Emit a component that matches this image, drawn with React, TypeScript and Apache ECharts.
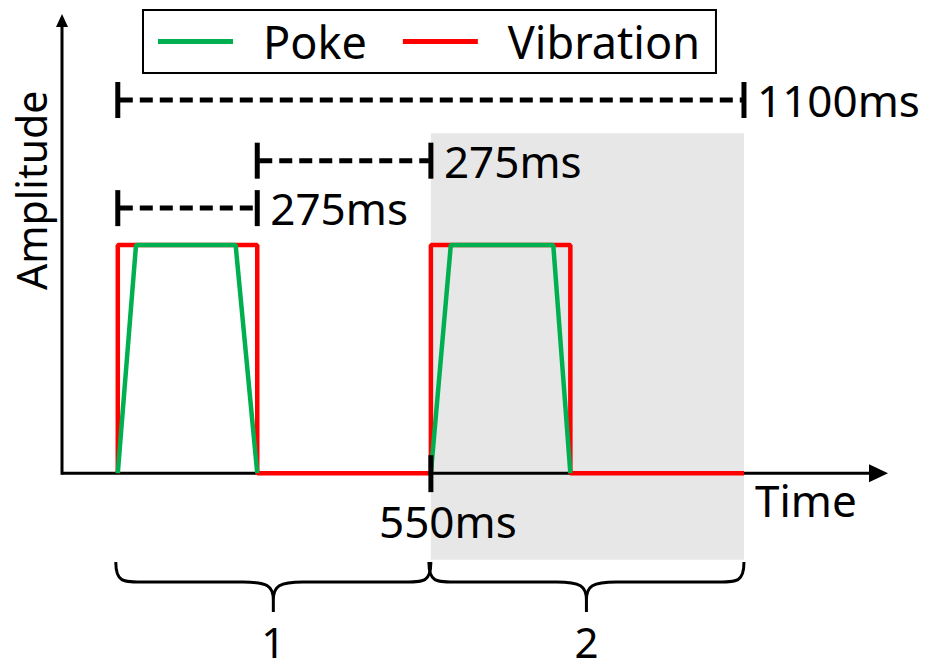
import React, { useEffect, useRef } from "react";
import * as echarts from "echarts";

// ---- data (time in ms, amplitude normalised) ----
const vibrationTime = [0, 0, 245, 245, 550, 550, 795, 795, 1100];
const vibrationAmp = [0, 1, 1, 0, 0, 1, 1, 0, 0];
const poke1Time = [0, 32, 207, 245];
const poke1Amp = [0, 1, 1, 0];
const poke2Time = [550, 585, 765, 795];
const poke2Amp = [0, 1, 1, 0];

// dimension (measurement) markers
const dimStart = [0, 245, 0];
const dimEnd = [1100, 550, 245];
const dimLevel = [1.636, 1.37, 1.162];
const dimLabels = ["1100ms", "275ms", "275ms"];

// braces grouping the two periods
const braceStart = [0, 550];
const braceEnd = [550, 1100];
const braceLabels = ["1", "2"];

// shaded second period
const shadeRange = [550, 1100];
const shadeLevels = [-0.38, 1.49];

// axis tick at 550 ms
const tickTimes = [550];
const tickLabels = ["550ms"];

const xRange = [-98, 1353];
const yRange = [-0.85, 2.0];

const FONT = '"Noto Sans", "DejaVu Sans", sans-serif';
const RED = "#ff0000";
const GREEN = "#00b050";

export default function App() {
  const ref = useRef<HTMLDivElement>(null);
  useEffect(() => {
    document.body.style.margin = "0";
    const chart = echarts.init(ref.current!, null, { renderer: "svg" });
    const zip = (a: number[], b: number[]) => a.map((v, i) => [v, b[i]]);

    const option: any = {
      animation: false,
      backgroundColor: "#ffffff",
      grid: { left: 62, right: 44, top: 17, bottom: 4 },
      xAxis: { type: "value", min: xRange[0], max: xRange[1], show: false },
      yAxis: { type: "value", min: yRange[0], max: yRange[1], show: false },
      legend: {
        data: ["Poke", "Vibration"],
        left: 143,
        top: 10,
        orient: "horizontal",
        icon: "rect",
        itemWidth: 75,
        itemHeight: 5,
        itemGap: 36,
        padding: [9, 16, 9, 15],
        borderColor: "#000",
        borderWidth: 2,
        textStyle: {
          fontFamily: FONT,
          fontSize: 45,
          lineHeight: 45,
          color: "#000",
          padding: [0, 0, 0, 25],
        },
      },
      series: [
        {
          type: "custom",
          name: "shade",
          z: 1,
          silent: true,
          clip: false,
          data: [[shadeRange[0], shadeLevels[0], shadeRange[1], shadeLevels[1]]],
          renderItem: (params: any, api: any) => {
            const p0 = api.coord([api.value(0), api.value(1)]);
            const p1 = api.coord([api.value(2), api.value(3)]);
            return {
              type: "rect",
              shape: { x: p0[0], y: p1[1], width: p1[0] - p0[0], height: p0[1] - p1[1] },
              style: { fill: "#e7e7e7" },
            };
          },
        },
        {
          type: "custom",
          name: "axes",
          z: 2,
          silent: true,
          clip: false,
          data: [[xRange[0], 0, xRange[1], yRange[1]]],
          renderItem: (params: any, api: any) => {
            const o = api.coord([api.value(0), api.value(1)]);
            const xe = api.coord([api.value(2), api.value(1)]);
            const ye = api.coord([api.value(0), api.value(3)]);
            return {
              type: "group",
              children: [
                {
                  type: "line",
                  shape: { x1: o[0], y1: o[1], x2: xe[0] - 15, y2: xe[1] },
                  style: { stroke: "#000", lineWidth: 3 },
                },
                {
                  type: "polygon",
                  shape: { points: [[xe[0], xe[1]], [xe[0] - 19, xe[1] - 9], [xe[0] - 19, xe[1] + 9]] },
                  style: { fill: "#000" },
                },
                {
                  type: "line",
                  shape: { x1: o[0], y1: o[1] + 1.5, x2: ye[0], y2: ye[1] + 10 },
                  style: { stroke: "#000", lineWidth: 3 },
                },
                {
                  type: "polygon",
                  shape: { points: [[ye[0], ye[1] - 3], [ye[0] - 6, ye[1] + 10], [ye[0] + 6, ye[1] + 10]] },
                  style: { fill: "#000" },
                },
                {
                  type: "text",
                  x: xe[0] - 133,
                  y: xe[1] + 27,
                  style: { text: "Time", font: `44px ${FONT}`, lineHeight: 44, fill: "#000", align: "left", verticalAlign: "middle" },
                },
                {
                  type: "text",
                  x: o[0] - 31,
                  y: api.coord([api.value(0), 1.24])[1],
                  rotation: Math.PI / 2,
                  style: { text: "Amplitude", font: `41px ${FONT}`, lineHeight: 40, fill: "#000", align: "center", verticalAlign: "middle" },
                },
              ],
            };
          },
        },
        {
          type: "line",
          name: "Vibration",
          z: 3,
          clip: false,
          showSymbol: false,
          symbol: "none",
          color: RED,
          lineStyle: { color: RED, width: 4.5 },
          data: zip(vibrationTime, vibrationAmp),
        },
        {
          type: "line",
          name: "Poke",
          z: 4,
          clip: false,
          showSymbol: false,
          symbol: "none",
          color: GREEN,
          lineStyle: { color: GREEN, width: 4.5 },
          data: zip(poke1Time, poke1Amp),
        },
        {
          type: "line",
          name: "Poke",
          z: 4,
          clip: false,
          showSymbol: false,
          symbol: "none",
          color: GREEN,
          lineStyle: { color: GREEN, width: 4.5 },
          data: zip(poke2Time, poke2Amp),
        },
        {
          type: "custom",
          name: "tick",
          z: 5,
          silent: true,
          clip: false,
          data: tickTimes.map((t) => [t, 0]),
          renderItem: (params: any, api: any) => {
            const p = api.coord([api.value(0), api.value(1)]);
            return {
              type: "group",
              children: [
                {
                  type: "line",
                  shape: { x1: p[0], y1: p[1] - 18, x2: p[0], y2: p[1] + 19 },
                  style: { stroke: "#000", lineWidth: 5 },
                },
                {
                  type: "text",
                  x: p[0] + 17,
                  y: p[1] + 48,
                  style: {
                    text: tickLabels[params.dataIndex],
                    font: `44px ${FONT}`,
                    lineHeight: 44,
                    fill: "#000",
                    align: "center",
                    verticalAlign: "middle",
                  },
                },
              ],
            };
          },
        },
        {
          type: "custom",
          name: "dims",
          z: 5,
          silent: true,
          clip: false,
          data: dimStart.map((s, i) => [s, dimLevel[i], dimEnd[i]]),
          renderItem: (params: any, api: any) => {
            const p0 = api.coord([api.value(0), api.value(1)]);
            const p1 = api.coord([api.value(2), api.value(1)]);
            return {
              type: "group",
              children: [
                {
                  type: "line",
                  shape: { x1: p0[0] + 2, y1: p0[1], x2: p1[0] - 2, y2: p1[1] },
                  style: { stroke: "#000", lineWidth: 5, lineDash: [13, 7] },
                },
                {
                  type: "line",
                  shape: { x1: p0[0], y1: p0[1] - 18, x2: p0[0], y2: p0[1] + 18 },
                  style: { stroke: "#000", lineWidth: 5 },
                },
                {
                  type: "line",
                  shape: { x1: p1[0], y1: p1[1] - 18, x2: p1[0], y2: p1[1] + 18 },
                  style: { stroke: "#000", lineWidth: 5 },
                },
                {
                  type: "text",
                  x: p1[0] + 13,
                  y: p1[1],
                  style: {
                    text: dimLabels[params.dataIndex],
                    font: `44px ${FONT}`,
                    lineHeight: 44,
                    fill: "#000",
                    align: "left",
                    verticalAlign: "middle",
                  },
                },
              ],
            };
          },
        },
        {
          type: "custom",
          name: "braces",
          z: 5,
          silent: true,
          clip: false,
          data: braceStart.map((s, i) => [s, -0.39, braceEnd[i]]),
          renderItem: (params: any, api: any) => {
            const a = api.coord([api.value(0), api.value(1)]);
            const b = api.coord([api.value(2), api.value(1)]);
            const x0 = a[0] - 2;
            const x1 = b[0];
            const yT = a[1];
            const yM = yT + 20;
            const yC = yT + 50;
            const xm = (x0 + x1) / 2;
            const r = 30;
            const d =
              `M${x0},${yT} C${x0},${yM} ${x0 + 6},${yM} ${x0 + r},${yM} ` +
              `L${xm - r},${yM} C${xm - 6},${yM} ${xm},${yM + 4} ${xm},${yM + 18} L${xm},${yC} ` +
              `M${xm},${yM + 18} C${xm},${yM + 4} ${xm + 6},${yM} ${xm + r},${yM} ` +
              `L${x1 - r},${yM} C${x1 - 6},${yM} ${x1},${yM} ${x1},${yT}`;
            return {
              type: "group",
              children: [
                {
                  type: "path",
                  shape: { pathData: d },
                  style: { stroke: "#000", lineWidth: 3, fill: "none" },
                },
                {
                  type: "text",
                  x: xm,
                  y: yT + 79,
                  style: {
                    text: braceLabels[params.dataIndex],
                    font: `42px ${FONT}`,
                    lineHeight: 40,
                    fill: "#000",
                    align: "center",
                    verticalAlign: "middle",
                  },
                },
              ],
            };
          },
        },
      ],
    };
    chart.setOption(option);
    return () => chart.dispose();
  }, []);
  return <div ref={ref} style={{ width: 932, height: 671 }} />;
}
